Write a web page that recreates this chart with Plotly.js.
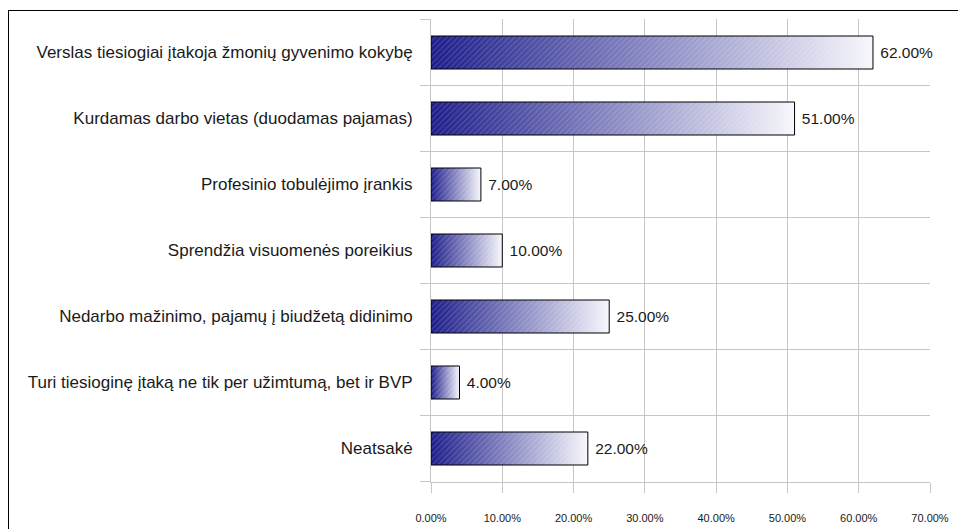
<!DOCTYPE html>
<html>
<head>
<meta charset="utf-8">
<script src="https://cdn.plot.ly/plotly-3.0.1.min.js"></script>
<style>
  html, body { margin: 0; padding: 0; background: #fff; overflow: hidden; }
  #wrap { position: relative; width: 958px; height: 529px; }
  #frame { position: absolute; left: 8px; top: 10px; width: 1000px; height: 600px;
           border-left: 1.5px solid #000; border-top: 1.5px solid #000; pointer-events: none; z-index: 2; }
  #chart { position: absolute; left: 0; top: 0; width: 958px; height: 529px; }
</style>
</head>
<body>
<div id="wrap">
  <div id="chart"></div>
  <div id="frame"></div>
</div>
<script>
const categories = [
  "Verslas tiesiogiai įtakoja žmonių gyvenimo kokybę",
  "Kurdamas darbo vietas (duodamas pajamas)",
  "Profesinio tobulėjimo įrankis",
  "Sprendžia visuomenės poreikius",
  "Nedarbo mažinimo, pajamų į biudžetą didinimo",
  "Turi tiesioginę įtaką ne tik per užimtumą, bet ir BVP",
  "Neatsakė"
];
const values = [0.62, 0.51, 0.07, 0.10, 0.25, 0.04, 0.22];
const tickVals = [0, 0.1, 0.2, 0.3, 0.4, 0.5, 0.6, 0.7];
const tickText = ["0.00%", "10.00%", "20.00%", "30.00%", "40.00%", "50.00%", "60.00%", "70.00%"];

const FONT = "Liberation Sans, Arial, sans-serif";

// category boundaries, used for the category axis' outside tick marks
const boundaries = categories.map((c, i) => i - 0.5).concat([categories.length - 0.5]);

const baseTrace = {
  type: "bar",
  orientation: "h",
  y: categories,
  x: values,
  width: 0.5,
  marker: { color: "#5a5aa8", line: { width: 0 } },
  hoverinfo: "skip",
  showlegend: false
};

const hatchTrace = {
  type: "bar",
  orientation: "h",
  y: categories,
  x: values,
  width: 0.5,
  marker: {
    color: "rgba(0,0,0,0)",
    line: { color: "#000", width: 1 },
    pattern: { shape: "/", fgcolor: "rgba(255,255,255,0.16)", bgcolor: "rgba(0,0,0,0)", size: 4, solidity: 0.3 }
  },
  text: values.map(v => "\u00a0" + (v * 100).toFixed(2) + "%"),
  textposition: "outside",
  textfont: { family: FONT, size: 15.5, color: "#1a1a1a" },
  cliponaxis: false,
  hoverinfo: "skip",
  showlegend: false
};

const tickShapes = boundaries.map(b => ({
  type: "line",
  xref: "paper",
  yref: "y",
  x0: -0.022, x1: 0,
  y0: b, y1: b,
  line: { color: "#c6c6c6", width: 1 },
  layer: "above"
}));

const layout = {
  width: 958,
  height: 529,
  margin: { l: 431, r: 28, t: 19, b: 47 },
  paper_bgcolor: "#fff",
  plot_bgcolor: "#fff",
  barmode: "overlay",
  font: { family: FONT, color: "#1a1a1a" },
  shapes: tickShapes,
  xaxis: {
    range: [0, 0.7],
    tickvals: tickVals,
    ticktext: tickText,
    showgrid: true,
    gridcolor: "#c6c6c6",
    gridwidth: 1,
    zeroline: false,
    showline: true,
    linecolor: "#c6c6c6",
    ticks: "outside",
    ticklen: 10,
    tickwidth: 1,
    tickcolor: "#c6c6c6",
    ticklabelstandoff: 16,
    tickfont: { family: FONT, size: 11, color: "#1a1a1a" },
    fixedrange: true
  },
  yaxis: {
    type: "category",
    autorange: "reversed",
    tickson: "boundaries",
    showgrid: true,
    gridcolor: "#c6c6c6",
    gridwidth: 1,
    showline: true,
    linecolor: "#c6c6c6",
    ticks: "",
    ticklabelstandoff: 14,
    tickfont: { family: FONT, size: 17, color: "#1a1a1a" },
    fixedrange: true
  }
};

Plotly.newPlot("chart", [baseTrace, hatchTrace], layout, { staticPlot: true, displayModeBar: false }).then(gd => {
  const svg = gd.querySelector("svg.main-svg");
  let defs = svg.querySelector("defs");
  const NS = "http://www.w3.org/2000/svg";
  if (!defs) { defs = document.createElementNS(NS, "defs"); svg.insertBefore(defs, svg.firstChild); }
  const grad = document.createElementNS(NS, "linearGradient");
  grad.setAttribute("id", "barGradient");
  grad.setAttribute("x1", "0"); grad.setAttribute("y1", "0");
  grad.setAttribute("x2", "1"); grad.setAttribute("y2", "0");
  [["0", "#1c1c8a"], ["1", "#f7f7fc"]].forEach(([o, c]) => {
    const s = document.createElementNS(NS, "stop");
    s.setAttribute("offset", o);
    s.setAttribute("stop-color", c);
    grad.appendChild(s);
  });
  defs.appendChild(grad);
  const traces = gd.querySelectorAll(".barlayer .trace.bars");
  if (traces.length) {
    traces[0].querySelectorAll(".point path").forEach(p => {
      p.style.fill = "url(#barGradient)";
      p.style.fillOpacity = 1;
    });
  }
});
</script>
</body>
</html>
